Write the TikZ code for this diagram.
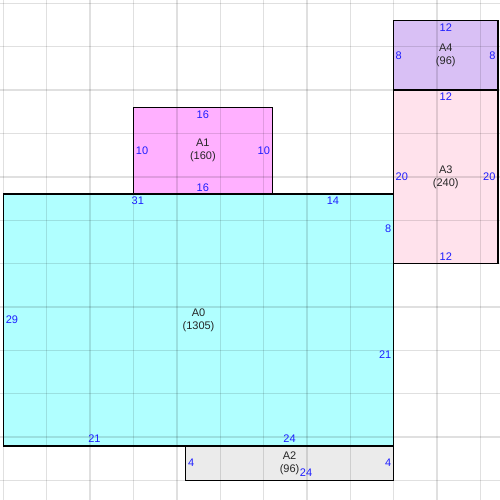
\documentclass[tikz,border=0pt]{standalone}
\usepackage{fontspec}
\setmainfont{Liberation Sans}
\definecolor{cA0}{RGB}{176,255,255}
\definecolor{cA1}{RGB}{255,176,255}
\definecolor{cA2}{RGB}{235,235,235}
\definecolor{cA3}{RGB}{255,226,236}
\definecolor{cA4}{RGB}{217,192,245}
\definecolor{dimblue}{RGB}{30,30,255}
\tikzset{
  room/.style={draw=black, line width=1.5pt},
  gridline/.style={draw=black, draw opacity=0.12, line width=1.4pt},
  roomname/.style={align=center, inner sep=0pt, font=\fontsize{11}{13}\selectfont, text=black!85},
  dimlab/.style={inner sep=0pt, font=\fontsize{11}{13}\selectfont, text=dimblue},
}
\begin{document}
\begin{tikzpicture}[x=8.676pt, y=-8.676pt]
\useasboundingbox (-0.38,-0.38) rectangle (57.25,57.25);
\fill[white] (-0.38,-0.38) rectangle (57.25,57.25);
% room fills
\coordinate (a0nw) at (0,22);  \coordinate (a0se) at (45,51);
\coordinate (a1nw) at (15,12); \coordinate (a1se) at (31,22);
\coordinate (a2nw) at (21,51); \coordinate (a2se) at (45,55);
\coordinate (a3nw) at (45,10); \coordinate (a3se) at (57,30);
\coordinate (a4nw) at (45,2);  \coordinate (a4se) at (57,10);
\fill[cA0] (a0nw) rectangle (a0se);
\fill[cA1] (a1nw) rectangle (a1se);
\fill[cA2] (a2nw) rectangle (a2se);
\fill[cA3] (a3nw) rectangle (a3se);
\fill[cA4] (a4nw) rectangle (a4se);
% grid
\foreach \g in {0,5,...,55} {
  \path[gridline] (\g,-0.38) -- (\g,57.25);
  \path[gridline] (-0.38,\g) -- (57.25,\g);
}
% outlines
\path[room] (a0nw) rectangle (a0se);
\path[room] (a1nw) rectangle (a1se);
\path[room] (a2nw) rectangle (a2se);
\path[room] (a3nw) rectangle (a3se);
\path[room] (a4nw) rectangle (a4se);
% names
\node[roomname] (n0) at (22.5,36.5) {A0\\(1305)};
\node[roomname] (n1) at (23,17) {A1\\(160)};
\node[roomname] (n2) at (33,53) {A2\\(96)};
\node[roomname] (n3) at (51,20) {A3\\(240)};
\node[roomname] (n4) at (51,6) {A4\\(96)};
% A1 dims
\node[dimlab] (d1t) at (23,12.8) {16};
\node[dimlab] (d1b) at (23,21.2) {16};
\node[dimlab, anchor=west] (d1l) at (15.27,17) {10};
\node[dimlab, anchor=east] (d1r) at (30.75,17) {10};
% A0 dims
\node[dimlab] (d0t1) at (15.5,22.8) {31};
\node[dimlab] (d0t2) at (38,22.8) {14};
\node[dimlab, anchor=east] (d0r1) at (44.75,26) {8};
\node[dimlab, anchor=east] (d0r2) at (44.75,40.5) {21};
\node[dimlab] (d0b1) at (10.5,50.2) {21};
\node[dimlab] (d0b2) at (33,50.2) {24};
\node[dimlab, anchor=west] (d0l) at (0.27,36.5) {29};
% A2 dims
\node[dimlab, anchor=west] (d2l) at (21.27,53) {4};
\node[dimlab, anchor=east] (d2r) at (44.75,53) {4};
\node[dimlab] (d2b) at (34.9,54.1) {24};
% A3 dims
\node[dimlab] (d3t) at (51,10.8) {12};
\node[dimlab] (d3b) at (51,29.2) {12};
\node[dimlab, anchor=west] (d3l) at (45.2,20) {20};
\node[dimlab, anchor=east] (d3r) at (56.75,20) {20};
% A4 dims
\node[dimlab] (d4t) at (51,2.8) {12};
\node[dimlab, anchor=west] (d4l) at (45.2,6) {8};
\node[dimlab, anchor=east] (d4r) at (56.75,6) {8};
\end{tikzpicture}
\end{document}
